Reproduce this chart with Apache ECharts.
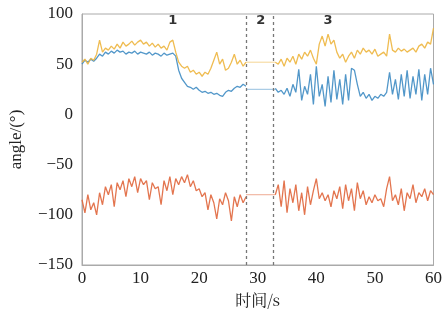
<!DOCTYPE html>
<html><head><meta charset="utf-8">
<script src="https://cdn.jsdelivr.net/npm/echarts@6/dist/echarts.min.js"></script>
<style>html,body{margin:0;padding:0;background:#fff}#c{width:445px;height:320px}</style>
</head><body><div id="c"></div>
<script>
// time segments (s): segment A 0..28, segment B 33..60, step 0.5
const startA = 0, endA = 28, startB = 33, endB = 60, step = 0.5;
const xTicks = [0, 10, 20, 30, 40, 50, 60];
const yTicks = [-150, -100, -50, 0, 50, 100];
const phaseLines = [28.1, 32.7];
const phaseLabels = ['1', '2', '3'];
const phaseLabelX = [15.5, 30.5, 42];

const yellowA = [52,55,50,56,54,60,74,62,66,64, 68,65,70,66,72,68,70,73,69,72, 74,70,72,68,71,67,70,66,68,64, 72,74,62,52,48,46,48,42,44,40, 42,38,42,40,46,54,62,50,55,44, 46,52,60,50,54,48,52];
const blueA   = [50,54,52,55,53,56,60,58,62,60, 63,61,64,62,63,60,62,61,63,60, 62,61,60,62,59,61,60,58,61,59, 60,61,58,44,36,32,28,27,25,27, 24,22,23,21,22,20,21,19,18,22, 24,23,26,28,27,30,28];
const redA    = [-85,-98,-80,-95,-88,-100,-78,-90,-72,-80, -70,-92,-68,-75,-66,-82,-64,-72,-62,-78, -64,-70,-66,-85,-68,-74,-72,-90,-66,-76, -62,-80,-64,-70,-62,-68,-60,-72,-66,-76, -74,-82,-78,-95,-80,-88,-104,-84,-90,-78, -86,-106,-82,-92,-80,-88,-82];
const yellowB = [52,50,55,48,56,52,58,50,60,55, 62,58,64,56,50,70,78,68,80,70, 74,62,56,60,52,58,62,56,64,60, 66,62,64,60,65,58,60,62,58,80, 64,62,66,63,65,62,64,66,62,68, 70,66,72,70,86];
const blueB   = [26,22,24,20,26,18,30,22,45,14, 28,20,40,10,48,18,30,8,38,12, 44,15,35,10,40,14,46,44,30,18, 22,16,20,14,18,16,20,18,22,42, 20,35,15,40,18,44,16,38,20,45, 14,40,20,46,30];
const redB    = [-80,-70,-92,-66,-98,-74,-88,-70,-96,-78, -100,-72,-90,-76,-64,-84,-78,-86,-80,-92, -76,-84,-72,-94,-70,-86,-74,-96,-68,-84, -76,-90,-82,-88,-80,-86,-84,-92,-74,-62, -86,-80,-90,-74,-96,-78,-84,-70,-88,-78, -82,-74,-86,-76,-80];
// constant values held during phase 2
const gapValues = {yellow: 52, blue: 25, red: -80};

const colors = {yellow: '#EDB53E', blue: '#3F8CC3', red: '#E0663C'};

function times(a, b) { const t = []; for (let v = a; v <= b + 1e-9; v += step) t.push(+v.toFixed(2)); return t; }
const tA = times(startA, endA), tB = times(startB, endB);
function pairs(vA, vB) {
  return tA.map((t, i) => [t, vA[i]]).concat([[30, null]]).concat(tB.map((t, i) => [t, vB[i]]));
}
function gap(v) { return [[endA, v], [startB, v]]; }

const serifFont = '"Liberation Serif","DejaVu Serif",serif';
const series = [];
[['red', redA, redB], ['blue', blueA, blueB], ['yellow', yellowA, yellowB]].forEach(([k, a, b]) => {
  series.push({type: 'line', data: pairs(a, b), showSymbol: false, connectNulls: false,
    lineStyle: {color: colors[k], width: 1.3, opacity: 0.9}, itemStyle: {color: colors[k]}, silent: true, z: 3});
  series.push({type: 'line', data: gap(gapValues[k]), showSymbol: false,
    lineStyle: {color: colors[k], width: 0.8, opacity: 0.7}, silent: true, z: 2});
});
series.push({type: 'line', data: [], silent: true,
  markLine: {symbol: 'none', silent: true, label: {show: false},
    lineStyle: {color: '#777', type: [3, 3], width: 1.3},
    data: phaseLines.map(x => ({xAxis: x}))},
  markPoint: {symbol: 'circle', symbolSize: 0, silent: true,
    label: {show: true, position: 'inside', color: '#333', fontWeight: 'bold', fontSize: 13, fontFamily: 'DejaVu Sans, sans-serif',
      formatter: p => p.name},
    data: phaseLabels.map((n, i) => ({name: n, coord: [phaseLabelX[i], 93]}))}
});

const chart = echarts.init(document.getElementById('c'), null, {renderer: 'canvas'});
chart.setOption({
  animation: false,
  backgroundColor: '#fff',
  grid: {left: 76, right: 7, top: 14, bottom: 55, show: true, borderColor: '#aaa', borderWidth: 1},
  xAxis: {type: 'value', min: 0, max: 60, interval: 10,
    name: '时间/s', nameLocation: 'middle', nameGap: 27,
    nameTextStyle: {fontFamily: '"Noto Serif CJK SC","Noto Sans CJK SC",serif', fontSize: 16, color: '#222'},
    axisLine: {show: true, onZero: false, lineStyle: {color: '#aaa'}}, axisTick: {show: false},
    splitLine: {show: false},
    axisLabel: {fontFamily: serifFont, fontSize: 17, color: '#222', margin: 5,
      formatter: v => xTicks.includes(v) ? String(v) : ''}},
  yAxis: {type: 'value', min: -150, max: 100, interval: 50,
    name: 'angle/(°)', nameLocation: 'middle', nameGap: 57, nameRotate: 90,
    nameTextStyle: {fontFamily: serifFont, fontSize: 17, color: '#222'},
    axisLine: {show: true, onZero: false, lineStyle: {color: '#aaa'}}, axisTick: {show: false},
    splitLine: {show: false},
    axisLabel: {fontFamily: serifFont, fontSize: 17, color: '#222', margin: 9,
      formatter: v => yTicks.includes(v) ? (v < 0 ? '\u2212' + Math.abs(v) : String(v)) : ''}},
  series: series
});
</script></body></html>
